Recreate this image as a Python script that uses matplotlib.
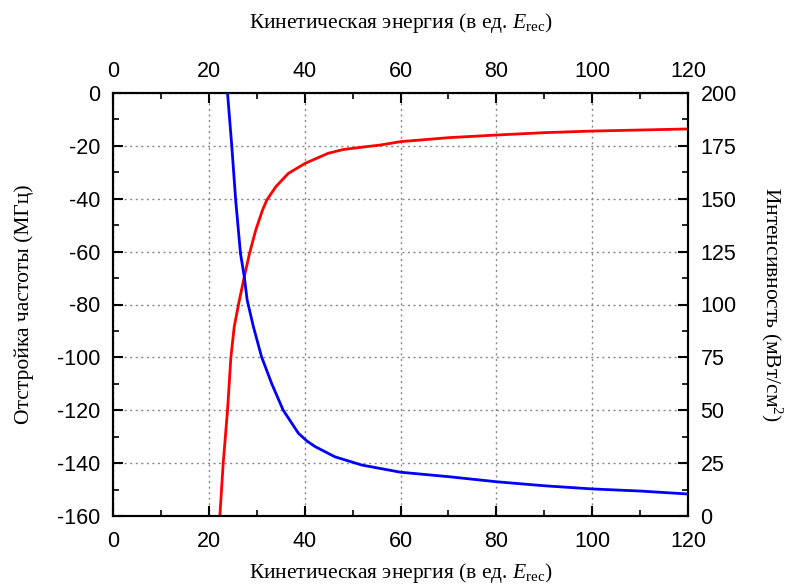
import matplotlib
matplotlib.use("Agg")
import matplotlib.pyplot as plt
from matplotlib.ticker import MultipleLocator
from matplotlib import font_manager

# ---- data ----
red_x = [22.3, 23.0, 23.9, 24.6, 25.3, 26.3, 27.4, 28.5, 29.8, 31.2, 32.1, 34.0,
         36.6, 40.1, 44.9, 48.0, 51.9, 55.7, 60.0, 70.0, 80.0, 90.0, 100.0, 110.0, 120.0]
red_y = [-160, -140, -120, -100, -88.4, -79, -69.5, -60.6, -51.8, -44.3, -40.5, -35.4,
         -30.4, -26.6, -22.8, -21.4, -20.5, -19.7, -18.4, -16.9, -15.9, -15.0, -14.4, -14.0, -13.6]

blue_x = [23.9, 24.8, 25.6, 26.6, 27.4, 28.0, 29.3, 31.0, 33.1, 35.5, 38.7, 40.5, 42.2,
          46.3, 51.9, 60.0, 70.0, 80.0, 90.0, 100.0, 110.0, 120.0]
blue_y = [200, 174.6, 149.4, 124.2, 113.1, 102.1, 89.5, 75.3, 62.7, 50.1, 39.1, 35.4, 32.8,
          28.0, 24.1, 20.7, 18.6, 16.2, 14.3, 12.8, 11.8, 10.4]

x_ticks = [0, 20, 40, 60, 80, 100, 120]
left_ticks = [-160, -140, -120, -100, -80, -60, -40, -20, 0]
right_ticks = [0, 25, 50, 75, 100, 125, 150, 175, 200]

xlabel = r'Кинетическая энергия (в ед. $E_{\mathrm{rec}}$)'
ylabel_left = 'Отстройка частоты (МГц)'
ylabel_right = r'Интенсивность (мВт/см$^2$)'

# ---- fonts ----
names = {f.name for f in font_manager.fontManager.ttflist}
tick_family = 'Liberation Sans Narrow' if 'Liberation Sans Narrow' in names else 'Liberation Sans'
serif = 'Liberation Serif'

plt.rcParams['axes.unicode_minus'] = False
plt.rcParams['mathtext.fontset'] = 'custom'
plt.rcParams['mathtext.rm'] = serif
plt.rcParams['mathtext.it'] = serif + ':italic'
plt.rcParams['mathtext.bf'] = serif + ':bold'

TICK_FS = 15.5
LABEL_FS = 15.5

fig = plt.figure(figsize=(7.86, 5.87), dpi=100)
ax = fig.add_axes([113/786, 1 - 516/587, (688-113)/786, (516-93)/587])
ax2 = ax.twinx()

ax.plot(red_x, red_y, color='#ff0000', lw=2.0, solid_joinstyle='round', zorder=3)
ax2.plot(blue_x, blue_y, color='#0000ff', lw=2.0, solid_joinstyle='round', zorder=3)

ax.set_xlim(0, 120)
ax.set_ylim(-160, 0)
ax2.set_ylim(0, 200)

ax.set_xticks(x_ticks)
ax.set_yticks(left_ticks)
ax2.set_yticks(right_ticks)
ax.xaxis.set_minor_locator(MultipleLocator(10))
ax.yaxis.set_minor_locator(MultipleLocator(10))
ax2.yaxis.set_minor_locator(MultipleLocator(12.5))

ax.grid(True, which='major', color='#888888', linestyle=(0, (1.5, 2.5)), lw=1.0)
ax.set_axisbelow(True)

for a in (ax, ax2):
    for s in a.spines.values():
        s.set_linewidth(1.5)
        s.set_color('black')

ax.tick_params(axis='x', which='major', direction='in', length=7, width=1.5,
               top=True, labelsize=TICK_FS, pad=11)
ax.tick_params(axis='y', which='major', direction='in', length=7, width=1.5,
               labelsize=TICK_FS, pad=9)
ax.tick_params(axis='both', which='minor', direction='in', length=4, width=1.2, top=True)
ax.tick_params(axis='y', which='both', right=False)
ax2.tick_params(axis='y', which='major', direction='in', length=7, width=1.5,
                labelsize=TICK_FS, pad=9)
ax2.tick_params(axis='y', which='minor', direction='in', length=4, width=1.2)

secx = ax.secondary_xaxis('top')
secx.set_xticks(x_ticks)
secx.tick_params(axis='x', which='major', direction='in', length=0, labelsize=TICK_FS, pad=8)
secx.spines['top'].set_visible(False)

for lab in ax.get_xticklabels() + ax.get_yticklabels() + ax2.get_yticklabels() + secx.get_xticklabels():
    lab.set_fontfamily(tick_family)

ax.set_xlabel(xlabel, fontfamily=serif, fontsize=LABEL_FS, labelpad=6)
secx.set_xlabel(xlabel, fontfamily=serif, fontsize=LABEL_FS, labelpad=24)
ax.set_ylabel(ylabel_left, fontfamily=serif, fontsize=LABEL_FS, labelpad=17)
ax2.set_ylabel(ylabel_right, fontfamily=serif, fontsize=LABEL_FS, rotation=270, labelpad=34)

fig.savefig('out.png', dpi=100)
